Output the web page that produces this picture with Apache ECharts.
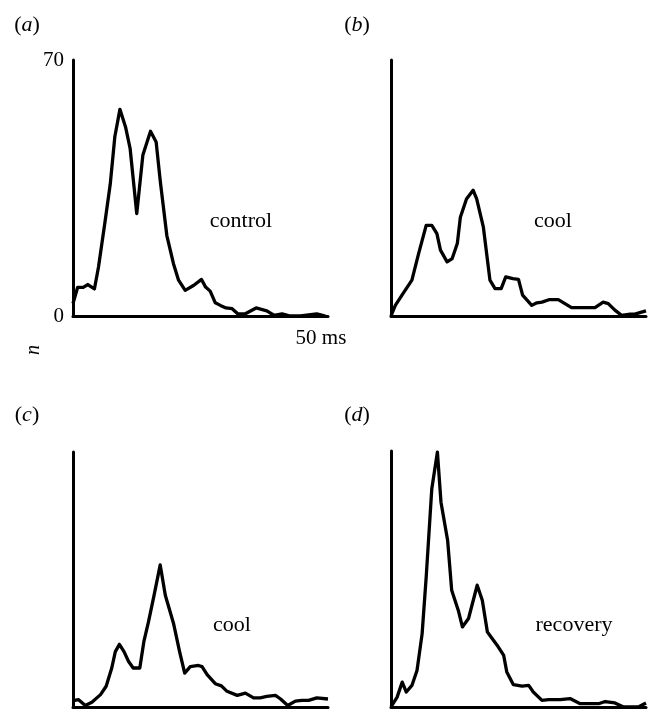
<!DOCTYPE html>
<html>
<head>
<meta charset="utf-8">
<script src="https://cdn.jsdelivr.net/npm/echarts@6/dist/echarts.min.js"></script>
<style>
html, body { margin: 0; padding: 0; background: #fff; }
#main { width: 655px; height: 710px; }
</style>
</head>
<body>
<div id="main"></div>
<script>
// time in ms, counts n
var timeA = [0, 0.9, 2, 2.9, 4.2, 5, 6.3, 7.3, 8.2, 9.2, 10.3, 11.2, 12.5, 13.7, 15.2, 16.3, 17.1, 18.4, 19.7, 20.7, 22, 23.7, 25.2, 26, 26.9, 27.9, 28.9, 30, 31.2, 32.3, 33.8, 35.9, 38, 39.4, 41, 42.6, 44.6, 47.8, 49.5]
var countA = [3.4, 7.8, 7.8, 8.6, 7.4, 13.4, 26, 36, 49, 56.5, 51.7, 45.8, 28, 44, 50.5, 47.6, 37, 22, 14.3, 9.8, 7, 8.4, 10, 7.9, 6.8, 3.6, 2.9, 2.2, 2, 0.6, 0.6, 2.2, 1.4, 0.2, 0.6, 0, 0, 0.6, 0]

var timeB = [0, 0.85, 2.15, 4.1, 5.4, 6.9, 8, 9, 9.7, 11, 12, 13, 13.6, 14.8, 16.1, 16.8, 18.1, 19.4, 20.4, 21.6, 22.5, 23.9, 25, 25.8, 27.6, 28.6, 29.6, 31.1, 32.8, 34.1, 35.4, 37, 40, 41.6, 42.6, 43.9, 45.2, 46.9, 47.8, 48.8, 50]
var countB = [0, 2.9, 5.7, 9.8, 17, 24.8, 24.8, 22.5, 18, 14.8, 15.7, 19.8, 27, 32, 34.4, 32, 24.4, 9.8, 7.5, 7.5, 10.7, 10.2, 10, 5.7, 2.9, 3.6, 3.8, 4.5, 4.5, 3.4, 2.3, 2.3, 2.3, 3.8, 3.4, 1.6, 0.2, 0.5, 0.5, 0.9, 1.4]

var timeC = [0.3, 1.1, 2.4, 3.7, 5.4, 6.5, 7.6, 8.3, 9.1, 10, 10.9, 11.8, 13.1, 13.9, 14.8, 15.9, 17.1, 18.1, 19.7, 20.9, 21.9, 23, 24.6, 25.3, 26.3, 27.9, 29.1, 30.2, 32.2, 33.8, 35.4, 36.7, 38, 39.7, 40.7, 42.1, 43.6, 44.9, 46.2, 47.8, 50]
var countC = [1.8, 2, 0.4, 1.3, 3.4, 5.7, 10.7, 15.2, 17.2, 15.2, 12.5, 10.7, 10.7, 18, 23.4, 30.7, 39, 30.7, 23, 15.2, 9.3, 11.1, 11.4, 11.1, 8.9, 6.4, 5.8, 4.3, 3.2, 3.8, 2.5, 2.5, 2.9, 3.2, 2.2, 0.4, 1.6, 1.8, 1.8, 2.5, 2.2]

var timeD = [0, 1.2, 2.2, 3, 4.1, 5.1, 6.1, 6.9, 8, 9.1, 9.8, 11.1, 11.9, 13.2, 14, 15.2, 16.9, 17.9, 18.9, 20.8, 22.1, 22.7, 24, 25.7, 27, 27.9, 29.6, 30.9, 33.2, 35.1, 37.1, 39, 40.7, 42, 43.9, 45.6, 48.5, 50]
var countD = [0, 2.7, 6.8, 4.1, 5.9, 10, 20, 35.5, 59.7, 69.7, 56, 45.6, 31.9, 26.4, 21.9, 24.2, 33.3, 29.2, 20.5, 16.9, 14.1, 9.6, 6.1, 5.7, 5.9, 4.1, 1.8, 2, 2, 2.3, 0.9, 0.9, 0.9, 1.5, 1.1, 0, 0, 1.1]

var panelLetters = ['a', 'b', 'c', 'd']
var conditionNames = ['control', 'cool', 'cool', 'recovery']
var yTickLabels = ['0', '70']
var xTickLabel = '50 ms'

var serif = '"Liberation Serif", "Times New Roman", serif'
var chart = echarts.init(document.getElementById('main'))

var times = [timeA, timeB, timeC, timeD]
var counts = [countA, countB, countC, countD]

// grid boxes
var grids = [
    { left: 73, top: 60, width: 255, height: 256 },
    { left: 391, top: 60, width: 255, height: 256 },
    { left: 73, top: 452, width: 255, height: 255 },
    { left: 391, top: 451, width: 255, height: 256 }
]

function pairs(xs, ys) {
    var out = []
    for (var i = 0; i < xs.length; i++) {
        out.push([xs[i], ys[i]])
    }
    return out
}

var xAxes = [], yAxes = [], series = []
for (var i = 0; i < 4; i++) {
    var first = (i == 0)
    xAxes.push({
        gridIndex: i, type: 'value', min: 0, max: 50, interval: 50,
        axisLine: { lineStyle: { color: '#000', width: 3 } },
        axisTick: { show: false },
        splitLine: { show: false },
        axisLabel: {
            show: first, color: '#000', fontFamily: serif, fontSize: 21, margin: 12,
            padding: [0, 14, 0, 0],
            formatter: function (v) { return v == 50 ? xTickLabel : '' }
        }
    })
    yAxes.push({
        gridIndex: i, type: 'value', min: 0, max: 70, interval: 70,
        axisLine: { show: true, lineStyle: { color: '#000', width: 3 } },
        axisTick: { show: false },
        splitLine: { show: false },
        axisLabel: {
            show: first, color: '#000', fontFamily: serif, fontSize: 21, margin: 9,
            padding: [8, 0, 0, 0],
            formatter: function (v) { return v == 0 ? yTickLabels[0] : yTickLabels[1] }
        }
    })
    series.push({
        type: 'line', xAxisIndex: i, yAxisIndex: i,
        data: pairs(times[i], counts[i]),
        symbol: 'none', smooth: false,
        lineStyle: { color: '#000', width: 3.3, join: 'round' },
        silent: true, animation: false
    })
}

// panel letters and condition labels
var letterPos = [[27, 25], [357, 25], [27, 415], [357, 415]]
var namePos = [[241, 221], [553, 221], [232, 625], [574, 625]]
var graphics = []
for (var j = 0; j < 4; j++) {
    graphics.push({
        type: 'text', x: letterPos[j][0], y: letterPos[j][1],
        style: {
            text: '{p|(}{l|' + panelLetters[j] + '}{p|)}',
            align: 'center', verticalAlign: 'middle',
            rich: {
                p: { fontFamily: serif, fontSize: 22, fill: '#000' },
                l: { fontFamily: serif, fontSize: 22, fontStyle: 'italic', fill: '#000' }
            }
        }
    })
    graphics.push({
        type: 'text', x: namePos[j][0], y: namePos[j][1],
        style: {
            text: conditionNames[j], fontFamily: serif, fontSize: 22, fill: '#000',
            align: 'center', verticalAlign: 'middle'
        }
    })
}
// y label n
graphics.push({
    type: 'text', x: 34, y: 350, rotation: Math.PI / 2,
    style: {
        text: 'n', fontFamily: serif, fontSize: 20, fontStyle: 'italic', fill: '#000',
        align: 'center', verticalAlign: 'middle'
    }
})

var option = {
    backgroundColor: '#fff',
    animation: false,
    grid: grids,
    xAxis: xAxes,
    yAxis: yAxes,
    series: series,
    graphic: graphics
}

chart.setOption(option)
</script>
</body>
</html>
